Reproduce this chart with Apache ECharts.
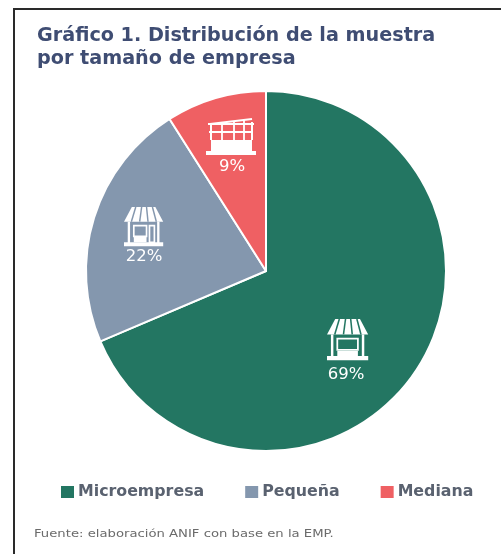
<!DOCTYPE html>
<html><head><meta charset="utf-8">
<style>html,body{margin:0;padding:0;background:#fff}#c{width:501px;height:554px}</style>
<script src="https://cdn.jsdelivr.net/npm/echarts@6/dist/echarts.min.js"></script>
</head><body><div id="c"></div>
<script>
const categories = ['Microempresa', 'Pequeña', 'Mediana'];
const shares = [68.6, 22.4, 9];
const sliceColors = ['#237662', '#8497ae', '#ef6063'];
const titleText = 'Gráfico 1. Distribución de la muestra\npor tamaño de empresa';
const sourceText = 'Fuente: elaboración ANIF con base en la EMP.';

const Z = 10;
const S = {fill:'#fff'};
const ln = (x1,y1,x2,y2,w) => ({type:'line', z:Z, shape:{x1,y1,x2,y2}, style:{stroke:'#fff', lineWidth:w||2}});
const rc = (x,y,width,height) => ({type:'rect', z:Z, shape:{x,y,width,height}, style:S});
const box = (x,y,width,height) => ({type:'rect', z:Z, shape:{x,y,width,height}, style:{stroke:'#fff',fill:'none',lineWidth:1.7}});
function shop(x,y,s,door,color){
  const kids = [
    {type:'polygon', z:Z, shape:{points:[[8,0],[32,0],[40,15],[0,15]]}, style:S},
    ...[[12,7.5],[18,16],[23,24.5],[29,33]].map(p => ({type:'line', z:Z+1, shape:{x1:p[0],y1:0,x2:p[1],y2:15}, style:{stroke:color,lineWidth:1.5}})),
    ln(5,15,5,37,2.4), ln(35,15,35,37,2.4), rc(0,36,40,4)
  ];
  if(door){
    kids.push(box(10,19,13,11), box(26,19,5,17), rc(10,30,13,6));
  } else {
    kids.push(box(10,19,20,11), rc(10,31,20,5));
  }
  return {type:'group', x, y, scaleX:s, scaleY:s, children:kids};
}
function factory(x,y){
  return {type:'group', x, y, children:[
    ln(4,8,46,3,1.8), ln(2,8,48,8,1.8), ln(3,16,47,16,1.8),
    ln(5,8,5,24,2), ln(16,6,16,24,1.8), ln(28,5,28,24,1.8), ln(38,3,38,24,1.8), ln(46,6,46,24,2),
    rc(5,24,41,12), rc(0,35,50,4)
  ]};
}
const labelCenters = [[346,375],[144,257],[232,167]];

const chart = echarts.init(document.getElementById('c'), null, {renderer:'canvas'});
chart.setOption({
  animation:false,
  backgroundColor:'#fff',
  title:{text:titleText, left:32, top:20, textStyle:{fontFamily:'DejaVu Sans', fontSize:19.2, fontWeight:'bold', color:'#3f4d73', lineHeight:23}},
  legend:{
    data:categories, left:59, top:484, padding:0, itemWidth:15, itemHeight:14, itemGap:39, icon:'rect',
    textStyle:{fontFamily:'DejaVu Sans', fontSize:15.8, fontWeight:'bold', color:'#5a6270', padding:[0,0,0,-2]}
  },
  color:sliceColors,
  series:[{
    type:'pie',
    center:[266,271],
    radius:[0,180],
    startAngle:90,
    clockwise:true,
    percentPrecision:0,
    data:categories.map((n,i)=>({name:n,value:shares[i]})),
    itemStyle:{borderColor:'#fff',borderWidth:2},
    label:{show:true, position:'inside', formatter:'{d}%', fontFamily:'DejaVu Sans', fontSize:16.5, color:'#fff'},
    labelLine:{show:false},
    labelLayout:function(p){ const c=labelCenters[p.dataIndex]; return {x:c[0], y:c[1], align:'center', verticalAlign:'middle'}; },
    emphasis:{disabled:true}
  }],
  graphic:[
    {type:'polyline', z:Z, shape:{points:[[14,554],[14,9],[501,9]]}, style:{stroke:'#2a2a2a', fill:'none', lineWidth:2}},
    {type:'text', z:Z, x:34, y:529, scaleX:1.32, style:{text:sourceText, fontFamily:'DejaVu Sans', fontSize:10, fill:'#6b6b6b'}},
    shop(327,319,1.03,false,sliceColors[0]),
    shop(124,207,0.98,true,sliceColors[1]),
    factory(206,116)
  ]
});
</script></body></html>
